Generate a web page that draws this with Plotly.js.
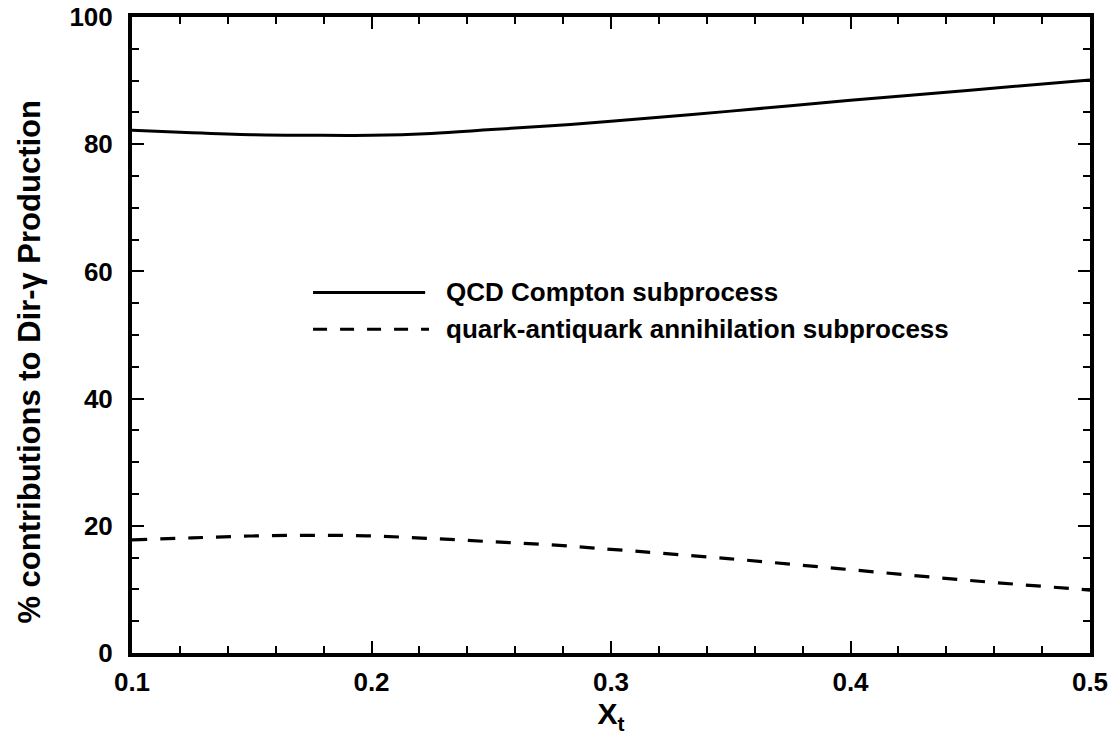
<!DOCTYPE html>
<html>
<head>
<meta charset="utf-8">
<script src="https://cdn.plot.ly/plotly-3.0.1.min.js"></script>
<style>html,body{margin:0;padding:0;background:#fff;}#chart{width:1116px;height:744px;}</style>
</head>
<body>
<div id="chart"></div>
<script>
const xt = [0.1, 0.125, 0.15, 0.175, 0.2, 0.225, 0.25, 0.275, 0.3, 0.35, 0.4, 0.45, 0.5];
const comptonPct = [82.2, 81.8, 81.5, 81.4, 81.4, 81.7, 82.3, 82.9, 83.6, 85.2, 86.9, 88.5, 90.1];
const annihilationPct = [17.8, 18.1, 18.4, 18.5, 18.4, 18.0, 17.5, 17.0, 16.3, 14.8, 13.1, 11.4, 9.9];
const seriesNames = ["QCD Compton subprocess", "quark-antiquark annihilation subprocess"];
const xTickVals = [0.1, 0.2, 0.3, 0.4, 0.5];
const xTickText = ["0.1", "0.2", "0.3", "0.4", "0.5"];
const yTickVals = [0, 20, 40, 60, 80, 100];
const yTitle = "% contributions to Dir-γ Production";

const FONT = "Liberation Sans, Arial, Helvetica, sans-serif";

const traces = [
  {x: xt, y: comptonPct, name: seriesNames[0], mode: "lines",
   line: {color: "#000", width: 3, shape: "spline"}, showlegend: false},
  {x: xt, y: annihilationPct, name: seriesNames[1], mode: "lines",
   line: {color: "#000", width: 3.2, shape: "spline", dash: "15px,13px"}, showlegend: false}
];

const axisCommon = {
  showgrid: false, zeroline: false, showline: true, linecolor: "#000", linewidth: 4,
  mirror: "allticks", ticks: "inside", ticklen: 12, tickwidth: 2, tickcolor: "#000",
  tickfont: {family: FONT, size: 26, color: "#000", weight: "bold"}
};

const layout = {
  width: 1116, height: 744,
  margin: {l: 132, r: 26, t: 17, b: 91},
  paper_bgcolor: "#fff", plot_bgcolor: "#fff",
  font: {family: FONT, color: "#000"},
  xaxis: Object.assign({}, axisCommon, {
    range: [0.1, 0.5], tickvals: xTickVals, ticktext: xTickText, ticklabelstandoff: 3,
    minor: {dtick: 0.02, tick0: 0.1, ticks: "inside", ticklen: 7, tickwidth: 2, tickcolor: "#000", showgrid: false},
    title: {text: "X<sub>t</sub>", font: {family: FONT, size: 30, color: "#000", weight: "bold"}, standoff: 8}
  }),
  yaxis: Object.assign({}, axisCommon, {
    range: [0, 100], tickvals: yTickVals, ticklabelstandoff: 10,
    minor: {dtick: 5, tick0: 0, ticks: "inside", ticklen: 7, tickwidth: 2, tickcolor: "#000", showgrid: false}
  }),
  shapes: [
    {type: "line", xref: "paper", yref: "paper", x0: 0.189, x1: 0.306, y0: 0.567, y1: 0.567,
     line: {color: "#000", width: 3}},
    {type: "line", xref: "paper", yref: "paper", x0: 0.189, x1: 0.31, y0: 0.509, y1: 0.509,
     line: {color: "#000", width: 3, dash: "14px,13px"}}
  ],
  annotations: [
    {xref: "paper", yref: "paper", x: -0.107, y: 0.459, xanchor: "center", yanchor: "middle", showarrow: false,
     textangle: -90, text: yTitle, font: {family: FONT, size: 31, color: "#000", weight: "bold"}},
    {xref: "paper", yref: "paper", x: 0.326, y: 0.567, xanchor: "left", yanchor: "middle", showarrow: false,
     text: seriesNames[0], font: {family: FONT, size: 26, color: "#000", weight: "bold"}},
    {xref: "paper", yref: "paper", x: 0.326, y: 0.509, xanchor: "left", yanchor: "middle", showarrow: false,
     text: seriesNames[1], font: {family: FONT, size: 26, color: "#000", weight: "bold"}}
  ]
};

Plotly.newPlot("chart", traces, layout, {displayModeBar: false, staticPlot: true});
</script>
</body>
</html>
